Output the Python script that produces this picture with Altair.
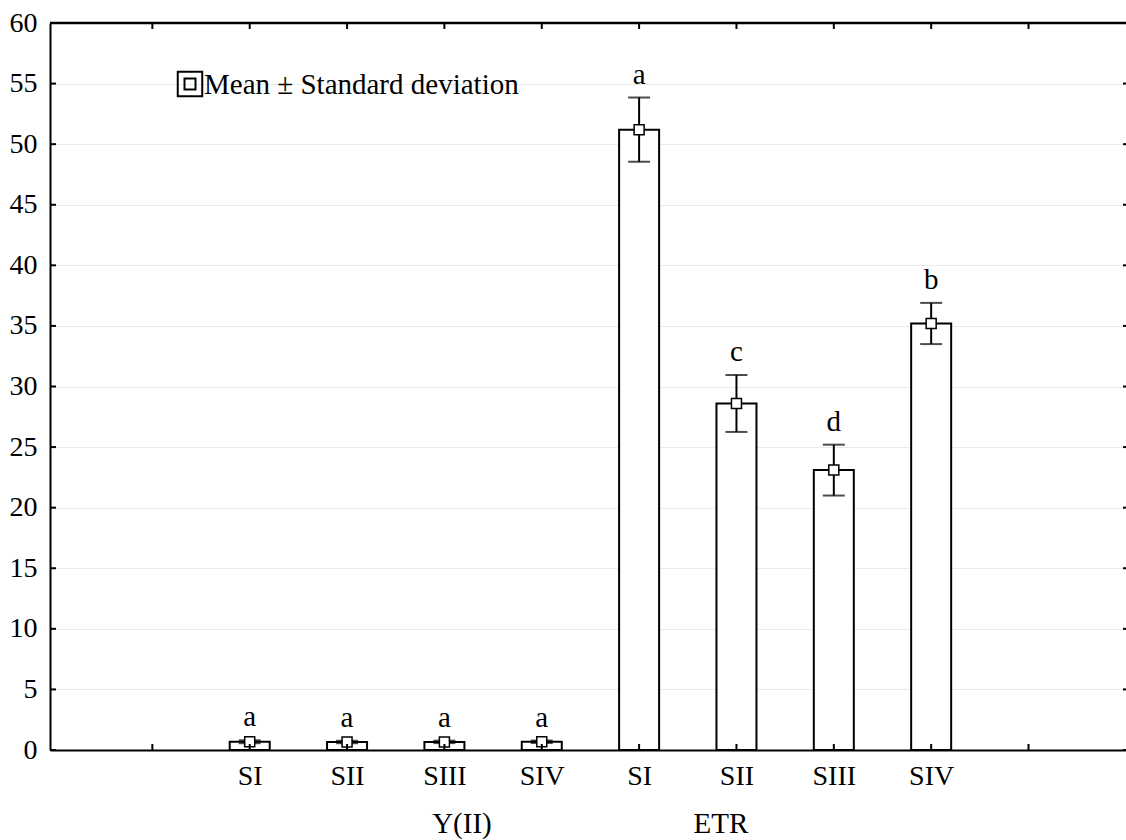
import altair as alt
import pandas as pd

# ---- data ----
categories = ["SI", "SII", "SIII", "SIV", "SI", "SII", "SIII", "SIV"]
positions = [2, 3, 4, 5, 6, 7, 8, 9]
means = [0.68, 0.66, 0.67, 0.68, 51.2, 28.6, 23.1, 35.2]
sds = [0.12, 0.1, 0.1, 0.1, 2.65, 2.35, 2.1, 1.7]
letters = ["a", "a", "a", "a", "a", "c", "d", "b"]
x_ticks = [1, 2, 3, 4, 5, 6, 7, 8, 9, 10]
y_ticks = [0, 5, 10, 15, 20, 25, 30, 35, 40, 45, 50, 55, 60]
group_labels = ["Y(II)", "ETR"]
group_pos = [4.18, 6.84]
legend_text = ["Mean \u00b1 Standard deviation"]

W, H = 1076, 727
FONT = "'Times New Roman', 'Liberation Serif', 'DejaVu Serif', serif"

df = pd.DataFrame({"pos": positions, "cat": categories, "mean": means, "sd": sds, "letter": letters})
df["lo"] = df["mean"] - df["sd"]
df["hi"] = df["mean"] + df["sd"]

xs = alt.Scale(domain=[0, 10.95], nice=False, zero=False)
ys = alt.Scale(domain=[0, 60], nice=False)

lab_arr = ["''"] * 12
for p, c in zip(positions, categories):
    lab_arr[p] = "'" + c + "'"
label_expr = "[" + ",".join(lab_arr) + "][datum.value]"

base = alt.Chart(df)

bars = base.mark_bar(size=40, fill="white", stroke="black", strokeWidth=2).encode(
    x=alt.X("pos:Q", scale=xs,
            axis=alt.Axis(values=positions, labelExpr=label_expr, title=None, tickSize=0,
                          grid=False, labelPadding=12)),
    y=alt.Y("mean:Q", scale=ys,
            axis=alt.Axis(values=y_ticks, title=None, tickSize=0, grid=True, gridColor="#ebebeb",
                          labelPadding=13)),
)

err = base.mark_rule(color="black", strokeWidth=2).encode(
    x=alt.X("pos:Q", scale=xs), y=alt.Y("lo:Q", scale=ys), y2="hi:Q")
cap_hi = base.mark_tick(color="black", size=22, thickness=2, orient="horizontal").encode(
    x=alt.X("pos:Q", scale=xs), y=alt.Y("hi:Q", scale=ys))
cap_lo = base.mark_tick(color="black", size=22, thickness=2, orient="horizontal").encode(
    x=alt.X("pos:Q", scale=xs), y=alt.Y("lo:Q", scale=ys))
pts = base.mark_point(shape="square", size=100, filled=True, fill="white", stroke="black",
                      strokeWidth=1.5, opacity=1).encode(
    x=alt.X("pos:Q", scale=xs), y=alt.Y("mean:Q", scale=ys))
lets = base.mark_text(font=FONT, fontSize=29, color="black", baseline="bottom", dy=-8).encode(
    x=alt.X("pos:Q", scale=xs), y=alt.Y("hi:Q", scale=ys), text="letter:N")

xt = pd.DataFrame({"t": x_ticks})
bt = alt.Chart(xt).mark_rule(color="black", strokeWidth=2).encode(
    x=alt.X("t:Q", scale=xs), y=alt.value(H), y2=alt.value(H - 6))
tt = alt.Chart(xt).mark_rule(color="black", strokeWidth=2).encode(
    x=alt.X("t:Q", scale=xs), y=alt.value(0), y2=alt.value(6))
yt = pd.DataFrame({"t": y_ticks})
lt = alt.Chart(yt).mark_rule(color="black", strokeWidth=2).encode(
    y=alt.Y("t:Q", scale=ys), x=alt.value(0), x2=alt.value(6))
rt = alt.Chart(yt).mark_rule(color="black", strokeWidth=2).encode(
    y=alt.Y("t:Q", scale=ys), x=alt.value(W), x2=alt.value(W - 3))
top = alt.Chart(pd.DataFrame({"a": [0]})).mark_rule(color="black", strokeWidth=2.5).encode(
    y=alt.value(0), x=alt.value(0), x2=alt.value(W))

gdf = pd.DataFrame({"g": group_labels, "p": group_pos})
groups = alt.Chart(gdf).mark_text(font=FONT, fontSize=29, color="black", baseline="alphabetic").encode(
    x=alt.X("p:Q", scale=xs), y=alt.value(H + 83), text="g:N")

ldf = pd.DataFrame({"t": legend_text})
leg_box = alt.Chart(ldf).mark_point(shape="square", size=600, filled=False, stroke="black",
                                    strokeWidth=2, opacity=1).encode(
    x=alt.value(140), y=alt.value(61))
leg_in = alt.Chart(ldf).mark_point(shape="square", size=121, filled=False, stroke="black",
                                   strokeWidth=2, opacity=1).encode(
    x=alt.value(140), y=alt.value(61))
leg_txt = alt.Chart(ldf).mark_text(font=FONT, fontSize=29, color="black", align="left",
                                   baseline="middle").encode(
    x=alt.value(154), y=alt.value(62), text="t:N")

chart = alt.layer(bars, err, cap_hi, cap_lo, pts, lets, bt, tt, lt, rt, top, groups,
                  leg_box, leg_in, leg_txt).properties(
    width=W, height=H,
    autosize=alt.AutoSizeParams(type="none"),
    padding={"left": 50, "top": 23, "right": 0, "bottom": 90},
).configure_view(stroke=None).configure(background="white").configure_axis(
    labelFont=FONT, labelFontSize=28, labelColor="black", domainColor="black", domainWidth=2
).configure_text(font=FONT)

chart.save("out.html", embed_options={"renderer": "svg", "actions": False})
